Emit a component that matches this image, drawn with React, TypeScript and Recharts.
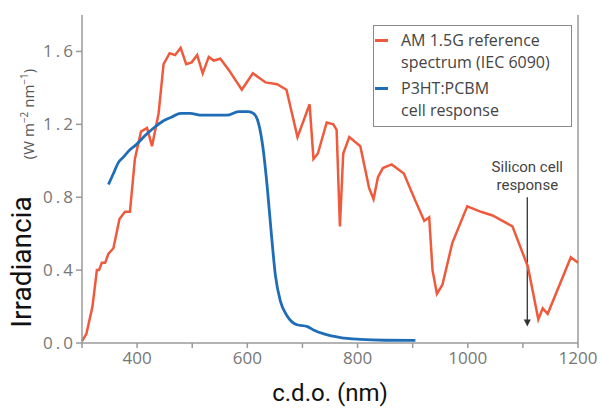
import { LineChart, Line, XAxis, YAxis, Legend, ReferenceLine } from "recharts";

// AM 1.5G reference spectrum
const amNm = [
  300, 308, 319, 327, 331, 336, 342, 348, 357, 368, 378, 387, 396, 407, 418, 427, 439, 448, 459, 469,
  479, 489, 499, 509, 519, 530, 539, 551, 566, 590, 610, 633, 654, 671, 691, 713, 720, 728, 744, 756,
  762, 768, 774, 785, 805, 821, 829, 837, 846, 862, 884, 905, 921, 930, 936, 944, 954, 972, 999, 1024,
  1045, 1081, 1109, 1128, 1136, 1145, 1187, 1200,
];
const amIrr = [
  0.01, 0.05, 0.2, 0.4, 0.4, 0.44, 0.44, 0.49, 0.52, 0.68, 0.72, 0.72, 1.01, 1.16, 1.18, 1.08, 1.26, 1.53, 1.59, 1.58,
  1.62, 1.53, 1.54, 1.58, 1.48, 1.57, 1.55, 1.56, 1.5, 1.39, 1.48, 1.43, 1.42, 1.39, 1.13, 1.31, 1.01, 1.04, 1.21, 1.2,
  1.17, 0.64, 1.04, 1.13, 1.08, 0.85, 0.79, 0.91, 0.96, 0.98, 0.93, 0.78, 0.67, 0.69, 0.4, 0.27, 0.32, 0.55, 0.75, 0.72,
  0.7, 0.64, 0.42, 0.13, 0.19, 0.16, 0.47, 0.44,
];

// P3HT:PCBM cell response
const cellNm = [
  348, 357, 366, 375, 387, 399, 415, 430, 448, 463, 479, 496, 518, 539, 563, 584, 602, 611, 620, 628,
  636, 643, 651, 660, 672, 690, 709, 721, 739, 769, 805, 850, 905,
];
const cellResp = [
  0.87, 0.93, 0.99, 1.02, 1.06, 1.09, 1.14, 1.18, 1.22, 1.24, 1.26, 1.26, 1.25, 1.25, 1.25, 1.27, 1.27, 1.26, 1.21, 1.08,
  0.86, 0.62, 0.37, 0.23, 0.15, 0.1, 0.09, 0.07, 0.05, 0.03, 0.02, 0.015, 0.014,
];

const xTicks = [300, 400, 500, 600, 700, 800, 900, 1000, 1100, 1200];
const xTickLabels = [400, 600, 800, 1000, 1200];
const yTicks = [0, 0.4, 0.8, 1.2, 1.6];

const RED = "#ef5a3d";
const BLUE = "#1f6db7";
const AXIS = "#9a9a9a";

const amData = amNm.map((nm, i) => ({ nm, value: amIrr[i] }));
const cellData = cellNm.map((nm, i) => ({ nm, value: cellResp[i] }));

const legendItems = [
  { color: RED, lines: ["AM 1.5G reference", "spectrum (IEC 6090)"] },
  { color: BLUE, lines: ["P3HT:PCBM", "cell response"] },
];

const renderLegend = () => (
  <div
    style={{
      border: "1.5px solid #8a8a8a",
      background: "#fff",
      padding: "3px 4px 5px 1px",
      width: 199,
      boxSizing: "border-box",
      fontFamily: "Open Sans",
      fontSize: 16,
      color: "#444",
      lineHeight: "22px",
      whiteSpace: "nowrap",
    }}
  >
    {legendItems.map((item, i) => (
      <div key={i} style={{ display: "flex", marginTop: i ? 4 : 0 }}>
        <span
          style={{ width: 13, height: 2.5, background: item.color, marginTop: 10, marginRight: 13, flex: "none" }}
        />
        <div>
          {item.lines[0]}
          <br />
          {item.lines[1]}
        </div>
      </div>
    ))}
  </div>
);

// arrow + text for the silicon cell annotation
const SiliconArrow = (props: any) => {
  const { x1, y1, x2, y2 } = props;
  return (
    <g>
      <text x={x1} y={y1 - 25} textAnchor="middle" fontFamily="Roboto" fontSize={15} fill="#444">
        Silicon cell
      </text>
      <text x={x1} y={y1 - 7} textAnchor="middle" fontFamily="Roboto" fontSize={15} fill="#444">
        response
      </text>
      <line x1={x1} y1={y1} x2={x2} y2={y2 - 6} stroke="#333" strokeWidth={1.3} />
      <polygon points={`${x2 - 3.5},${y2 - 7} ${x2 + 3.5},${y2 - 7} ${x2},${y2}`} fill="#333" />
    </g>
  );
};

const YLabel = () => (
  <g>
    <text
      transform="translate(31, 262) rotate(-90)"
      textAnchor="middle"
      fontFamily="Roboto"
      fontSize={28}
      fill="#111"
    >
      Irradiancia
    </text>
    <text
      transform="translate(34, 114) rotate(-90)"
      textAnchor="middle"
      fontFamily="Open Sans"
      fontSize={15}
      fill="#555"
    >
      (W m
      <tspan dy={-6} fontSize={10}>−2</tspan>
      <tspan dy={6}> nm</tspan>
      <tspan dy={-6} fontSize={10}>−1</tspan>
      <tspan dy={6}>)</tspan>
    </text>
  </g>
);

export default function App() {
  return (
    <div style={{ position: "absolute", left: 0, top: 0, background: "#fff" }}>
      <LineChart width={603} height={409} margin={{ top: 15, right: 25, bottom: 0, left: 0 }}>
        <XAxis
          type="number"
          dataKey="nm"
          domain={[300, 1200]}
          ticks={xTicks}
          interval={0}
          tickFormatter={(v: number) => (xTickLabels.includes(v) ? String(v) : "")}
          height={66}
          stroke={AXIS}
          strokeWidth={1.5}
          tickSize={5}
          tickMargin={4}
          tick={{ fill: "#777", fontSize: 17, fontFamily: "Open Sans" }}
          label={{
            value: "c.d.o. (nm)",
            position: "insideBottom",
            offset: 8,
            style: { fontFamily: "Roboto", fontSize: 24, fill: "#111" },
          }}
        />
        <YAxis
          type="number"
          domain={[0, 1.8]}
          ticks={yTicks}
          interval={0}
          tickFormatter={(v: number) => v.toFixed(1)}
          width={82}
          stroke={AXIS}
          strokeWidth={1.5}
          tickSize={6}
          tickMargin={0}
          tick={{ fill: "#777", fontSize: 17, fontFamily: "Open Sans", letterSpacing: 3 }}
          label={{ content: () => <YLabel /> }}
        />
        <ReferenceLine x={1200} stroke={AXIS} strokeWidth={1.5} />
        <ReferenceLine
          segment={[
            { x: 1108, y: 0.8 },
            { x: 1108, y: 0.09 },
          ]}
          shape={SiliconArrow}
        />
        <Line
          data={amData}
          dataKey="value"
          type="linear"
          stroke={RED}
          strokeWidth={2.5}
          dot={false}
          isAnimationActive={false}
        />
        <Line
          data={cellData}
          dataKey="value"
          type="monotone"
          stroke={BLUE}
          strokeWidth={2.8}
          dot={false}
          isAnimationActive={false}
        />
        <Legend
          layout="vertical"
          verticalAlign="middle"
          align="center"
          wrapperStyle={{ left: 373, top: 25, width: "auto" }}
          content={renderLegend}
        />
      </LineChart>
    </div>
  );
}
